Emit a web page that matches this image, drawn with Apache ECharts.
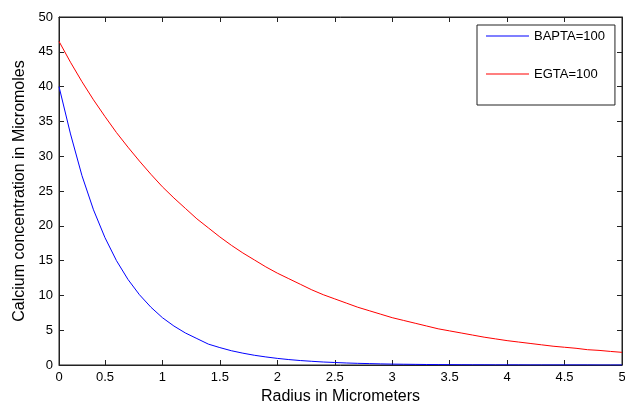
<!DOCTYPE html>
<html>
<head>
<meta charset="utf-8">
<script src="https://cdn.jsdelivr.net/npm/echarts@6/dist/echarts.min.js"></script>
<style>
  html, body { margin: 0; padding: 0; background: #ffffff; }
  #chart { width: 625px; height: 404px; }
</style>
</head>
<body>
<div id="chart"></div>
<script>
// Radial positions (micrometers) at which the profiles are sampled
const radius = [
  0.1, 0.2, 0.3, 0.4, 0.5, 0.6, 0.7, 0.8, 0.9, 1.0,
  1.1, 1.2, 1.3, 1.4, 1.5, 1.6, 1.7, 1.8, 1.9, 2.0,
  2.1, 2.2, 2.3, 2.4, 2.5, 2.6, 2.7, 2.8, 2.9, 3.0,
  3.1, 3.2, 3.3, 3.4, 3.5, 3.6, 3.7, 3.8, 3.9, 4.0,
  4.1, 4.2, 4.3, 4.4, 4.5, 4.6, 4.7, 4.8, 4.9, 5.0
];

// Calcium concentration (micromoles) with BAPTA = 100
const bapta = [
  40.0, 33.2, 27.2, 22.3, 18.3, 15.0, 12.3, 10.1, 8.3, 6.8,
  5.6, 4.6, 3.8, 3.0, 2.5, 2.05, 1.7, 1.4, 1.16, 0.95,
  0.78, 0.64, 0.53, 0.43, 0.36, 0.29, 0.24, 0.20, 0.16, 0.13,
  0.11, 0.09, 0.07, 0.06, 0.05, 0.04, 0.03, 0.03, 0.02, 0.02,
  0.02, 0.01, 0.01, 0.01, 0.01, 0.01, 0.01, 0.0, 0.0, 0.0
];

// Calcium concentration (micromoles) with EGTA = 100
const egta = [
  46.5, 43.5, 40.7, 38.1, 35.7, 33.4, 31.3, 29.3, 27.4, 25.6,
  24.0, 22.5, 21.0, 19.7, 18.4, 17.2, 16.1, 15.1, 14.1, 13.2,
  12.4, 11.6, 10.8, 10.1, 9.5, 8.9, 8.3, 7.8, 7.3, 6.8,
  6.4, 6.0, 5.6, 5.2, 4.9, 4.6, 4.3, 4.0, 3.75, 3.5,
  3.3, 3.1, 2.9, 2.7, 2.55, 2.4, 2.2, 2.1, 1.95, 1.82
];

const seriesNames = ['BAPTA=100', 'EGTA=100'];

// x tick positions and the label written at the left edge of the axis
const xTicks = [0.5, 1, 1.5, 2, 2.5, 3, 3.5, 4, 4.5, 5];
const xOriginLabel = '0';

const xMin = radius[0];
const xMax = 5;

const font = 'Liberation Sans, Arial, sans-serif';
const axisColor = '#222222';

const toPairs = (ys) => radius.map((r, i) => [r, ys[i]]);

const chart = echarts.init(document.getElementById('chart'), null, { renderer: 'canvas' });

const xLabelValues = [xMin].concat(xTicks);

chart.setOption({
  backgroundColor: '#ffffff',
  animation: false,
  grid: {
    left: 59, right: 3, top: 17, bottom: 39,
    outerBoundsMode: 'none',
    containLabel: false,
    show: true, borderColor: axisColor, borderWidth: 1, backgroundColor: '#ffffff'
  },
  legend: {
    orient: 'vertical',
    left: 477, top: 25,
    padding: [4, 10, 24, 9],
    icon: 'rect',
    itemWidth: 43, itemHeight: 1, itemGap: 24,
    borderColor: axisColor, borderWidth: 1,
    backgroundColor: '#ffffff',
    textStyle: { fontFamily: font, fontSize: 13, lineHeight: 14, color: '#000000' },
    data: seriesNames
  },
  xAxis: [
    {
      type: 'value', position: 'bottom',
      min: xMin, max: xMax,
      name: 'Radius in Micrometers', nameLocation: 'middle', nameGap: 21,
      nameTextStyle: { fontFamily: font, fontSize: 16, color: '#000000' },
      axisLine: { show: true, onZero: false, lineStyle: { color: axisColor, width: 1 } },
      axisTick: { show: true, inside: true, length: 5, customValues: xTicks, lineStyle: { color: axisColor } },
      axisLabel: {
        show: true, margin: 6, customValues: xLabelValues,
        fontFamily: font, fontSize: 13, color: '#000000',
        formatter: (v) => (Math.abs(v - xMin) < 1e-9 ? xOriginLabel : String(v))
      },
      splitLine: { show: false }
    },
    {
      type: 'value', position: 'top',
      min: xMin, max: xMax,
      axisLine: { show: true, onZero: false, lineStyle: { color: axisColor, width: 1 } },
      axisTick: { show: true, inside: true, length: 5, customValues: xTicks, lineStyle: { color: axisColor } },
      axisLabel: { show: false },
      splitLine: { show: false }
    }
  ],
  yAxis: [
    {
      type: 'value', position: 'left',
      min: 0, max: 50, interval: 5,
      name: 'Calcium concentration in Micromoles', nameLocation: 'middle', nameGap: 28,
      nameTextStyle: { fontFamily: font, fontSize: 16, color: '#000000' },
      axisLine: { show: true, onZero: false, lineStyle: { color: axisColor, width: 1 } },
      axisTick: { show: true, inside: true, length: 5, lineStyle: { color: axisColor } },
      axisLabel: { show: true, margin: 6, fontFamily: font, fontSize: 13, color: '#000000' },
      splitLine: { show: false }
    },
    {
      type: 'value', position: 'right',
      min: 0, max: 50, interval: 5,
      axisLine: { show: true, onZero: false, lineStyle: { color: axisColor, width: 1 } },
      axisTick: { show: true, inside: true, length: 5, lineStyle: { color: axisColor } },
      axisLabel: { show: false },
      splitLine: { show: false }
    }
  ],
  series: [
    {
      name: seriesNames[0], type: 'line', xAxisIndex: 0, yAxisIndex: 0,
      data: toPairs(bapta),
      showSymbol: false, symbol: 'none',
      lineStyle: { color: '#0000ff', width: 1 },
      itemStyle: { color: '#0000ff' },
      z: 5
    },
    {
      name: seriesNames[1], type: 'line', xAxisIndex: 0, yAxisIndex: 0,
      data: toPairs(egta),
      showSymbol: false, symbol: 'none',
      lineStyle: { color: '#ff0000', width: 1 },
      itemStyle: { color: '#ff0000' },
      z: 5
    }
  ]
});
</script>
</body>
</html>
